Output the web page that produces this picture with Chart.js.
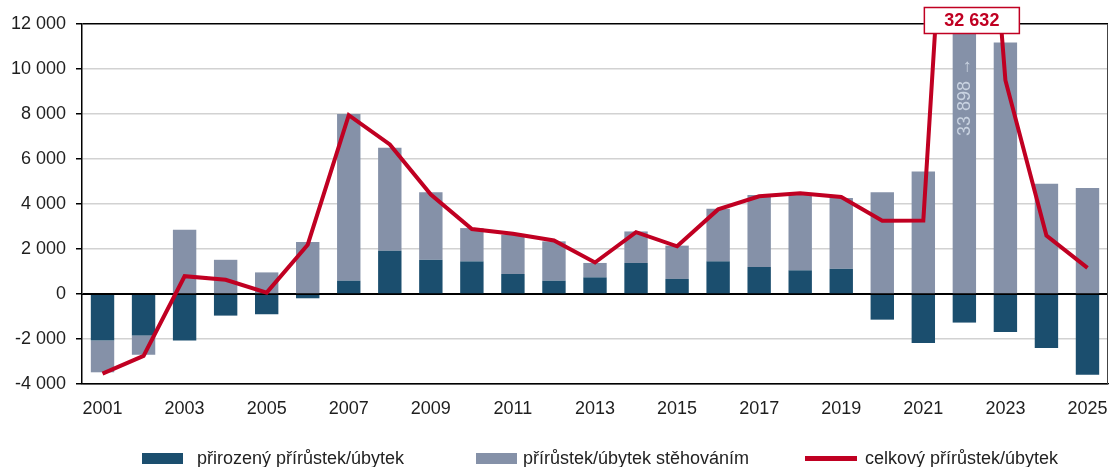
<!DOCTYPE html>
<html lang="cs">
<head>
<meta charset="utf-8">
<script src="https://cdn.jsdelivr.net/npm/chart.js@4/dist/chart.umd.min.js"></script>
<style>
    html, body { margin: 0; padding: 0; background: #fff; }
    #wrap { position: relative; width: 1110px; height: 467px; font-family: "Liberation Sans", Arial, sans-serif; }
    #chart { position: absolute; left: 0; top: 0; }
    .lg-item { position: absolute; top: 447px; height: 22px; line-height: 22px; font-size: 18px; color: #222; white-space: nowrap; }
    .lg-box { position: absolute; top: 6px; width: 41px; height: 11px; }
    .lg-line { position: absolute; top: 9px; width: 52px; height: 5px; background: #c00022; }
</style>
</head>
<body>
<div id="wrap">
    <canvas id="chart" width="1110" height="467"></canvas>
    <div class="lg-item" style="left:142px"><span class="lg-box" style="left:0;background:#1b4e6e"></span><span style="margin-left:55px">přirozený přírůstek/úbytek</span></div>
    <div class="lg-item" style="left:476px"><span class="lg-box" style="left:0;background:#8591a8"></span><span style="margin-left:47px">přírůstek/úbytek stěhováním</span></div>
    <div class="lg-item" style="left:805px"><span class="lg-line" style="left:0"></span><span style="margin-left:60px">celkový přírůstek/úbytek</span></div>
</div>
<script>
// 데이터
const years = ['2001', '2002', '2003', '2004', '2005', '2006', '2007', '2008', '2009', '2010',
    '2011', '2012', '2013', '2014', '2015', '2016', '2017', '2018', '2019', '2020',
    '2021', '2022', '2023', '2024', '2025'];

const naturalChange = [-2070, -1840, -2070, -960, -900, -190, 590, 1920, 1520, 1450,
    890, 590, 740, 1380, 670, 1450, 1200, 1050, 1120, -1140,
    -2180, -1270, -1690, -2400, -3590];

const migrationChange = [-1410, -860, 2860, 1520, 960, 2310, 7410, 4580, 3000, 1480,
    1750, 1750, 640, 1400, 1480, 2340, 3200, 3400, 3150, 4520,
    5450, 33898, 11180, 4900, 4710];

const totalChange = [-3540, -2750, 790, 630, 60, 2190, 7950, 6650, 4420, 2890,
    2680, 2380, 1400, 2750, 2120, 3760, 4340, 4480, 4310, 3260,
    3270, 32632, 9500, 2600, 1160];

const yTicks = { min: -4000, max: 12000, step: 2000 };

// 2022 막대/선 값이 축 범위를 넘어서 따로 표시
const clippedYear = '2022';
const clippedBarLabel = '33 898 →';
const clippedLineLabel = '32 632';

const colors = {
    natural: '#1b4e6e',
    migration: '#8591a8',
    total: '#c00022',
    grid: '#d2d2d2',
    axis: '#000000',
    text: '#1e1e1e'
};

const FONT = '"Liberation Sans", Arial, sans-serif';

const fmt = v => String(v).replace(/\B(?=(\d{3})+(?!\d))/g, ' ');

// 0선, 테두리, 잘린 값 표시
const overlayPlugin = {
    id: 'overlay',
    afterDatasetDraw(chart, args) {
        if (args.index !== 0) return;
        const { ctx, chartArea, scales } = chart;
        const y0 = Math.round(scales.y.getPixelForValue(0)) + 0.5;
        ctx.save();
        ctx.strokeStyle = colors.axis;
        ctx.lineWidth = 1.2;
        ctx.beginPath();
        ctx.moveTo(chartArea.left, y0);
        ctx.lineTo(chartArea.right, y0);
        ctx.stroke();
        ctx.restore();
    },
    afterDatasetsDraw(chart) {
        const { ctx, chartArea, scales } = chart;
        const idx = years.indexOf(clippedYear);
        const x = scales.x.getPixelForValue(idx);

        ctx.save();
        // 오른쪽 테두리
        ctx.strokeStyle = '#444';
        ctx.lineWidth = 1;
        ctx.beginPath();
        ctx.moveTo(chartArea.right - 0.5, chartArea.top);
        ctx.lineTo(chartArea.right - 0.5, chartArea.bottom);
        ctx.stroke();

        // 막대 안의 세로 라벨
        ctx.translate(x + 1, chartArea.top + 73);
        ctx.rotate(-Math.PI / 2);
        ctx.fillStyle = '#c9d3e1';
        ctx.font = '18px ' + FONT;
        ctx.textAlign = 'center';
        ctx.textBaseline = 'middle';
        ctx.fillText(clippedBarLabel, 0, 0);
        ctx.restore();

        // 선 값 상자
        ctx.save();
        const bx = x + 7.5, bw = 96, bh = 27, by = 7;
        ctx.fillStyle = '#fff';
        ctx.fillRect(bx - bw / 2, by, bw, bh);
        ctx.strokeStyle = colors.total;
        ctx.lineWidth = 1.5;
        ctx.strokeRect(bx - bw / 2 + 0.5, by + 0.5, bw - 1, bh - 1);
        ctx.fillStyle = colors.total;
        ctx.font = 'bold 18px ' + FONT;
        ctx.textAlign = 'center';
        ctx.textBaseline = 'middle';
        ctx.fillText(clippedLineLabel, bx, by + bh / 2 + 1);
        ctx.restore();
    }
};

const canvas = document.getElementById('chart');

const chart = new Chart(canvas, {
    type: 'bar',
    data: {
        labels: years,
        datasets: [
            {
                label: 'přirozený přírůstek/úbytek',
                data: naturalChange,
                backgroundColor: colors.natural,
                borderWidth: 0,
                stack: 's',
                order: 1
            },
            {
                label: 'přírůstek/úbytek stěhováním',
                data: migrationChange,
                backgroundColor: colors.migration,
                borderWidth: 0,
                stack: 's',
                order: 1
            },
            {
                type: 'line',
                label: 'celkový přírůstek/úbytek',
                data: totalChange,
                borderColor: colors.total,
                backgroundColor: colors.total,
                borderWidth: 4,
                pointRadius: 0,
                tension: 0,
                fill: false,
                order: 0
            }
        ]
    },
    options: {
        responsive: false,
        animation: false,
        layout: { padding: { left: 0, right: 2, top: 24, bottom: 53 } },
        datasets: {
            bar: { barPercentage: 0.57, categoryPercentage: 1 }
        },
        plugins: {
            legend: { display: false },
            tooltip: { enabled: false }
        },
        scales: {
            x: {
                stacked: true,
                grid: { display: false, drawTicks: false },
                border: { display: true, color: colors.axis, width: 1.2 },
                ticks: {
                    autoSkip: false,
                    maxRotation: 0,
                    padding: 14,
                    color: colors.text,
                    font: { family: FONT, size: 18 },
                    callback: (v, i) => (i % 2 === 0 ? years[i] : '')
                },
                afterFit: scale => {
                    scale.height = 30;
                    // 마지막 라벨 때문에 플롯이 줄어들지 않도록
                    scale.paddingLeft = 0;
                    scale.paddingRight = 0;
                }
            },
            y: {
                stacked: true,
                min: yTicks.min,
                max: yTicks.max,
                grid: {
                    color: ctx => {
                        const v = ctx.tick.value;
                        return (v === 0 || v === yTicks.max || v === yTicks.min) ? colors.axis : colors.grid;
                    },
                    lineWidth: 1.5,
                    tickLength: 6,
                    tickColor: colors.axis
                },
                border: { display: true, color: colors.axis, width: 1.5 },
                ticks: {
                    stepSize: yTicks.step,
                    padding: 10,
                    color: colors.text,
                    font: { family: FONT, size: 18 },
                    callback: v => fmt(v)
                },
                afterFit: scale => { scale.width = 82; }
            }
        }
    },
    plugins: [overlayPlugin]
});

console.log('chart ready', chart.chartArea);
</script>
</body>
</html>
